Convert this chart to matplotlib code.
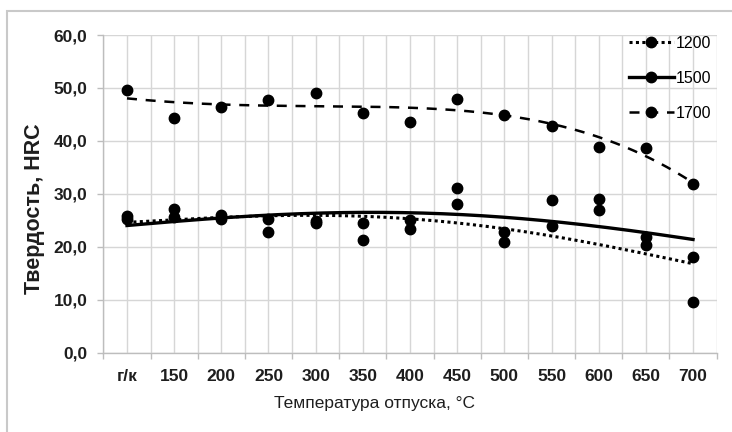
import numpy as np
import matplotlib.pyplot as plt
from matplotlib.lines import Line2D
from matplotlib.patches import Rectangle
from matplotlib.ticker import FixedLocator, FuncFormatter

# Hardness after tempering, HRC, for three hardening temperatures
temps = ['г/к', '150', '200', '250', '300', '350', '400',
         '450', '500', '550', '600', '650', '700']
hrc_1200 = [25.2, 25.6, 25.3, 22.7, 24.4, 21.2, 23.4, 28.0, 20.9, 24.0, 26.9, 20.3, 9.5]
hrc_1500 = [25.8, 27.2, 25.9, 25.3, 24.8, 24.4, 25.0, 31.0, 22.8, 28.9, 29.1, 21.8, 18.0]
hrc_1700 = [49.7, 44.3, 46.3, 47.7, 49.0, 45.2, 43.6, 47.9, 44.9, 42.8, 38.9, 38.7, 31.9]

# trend values at each tempering temperature
trend_1200 = [24.7, 24.9, 25.5, 25.9, 26.0, 25.8, 25.3, 24.5, 23.1, 22.0, 20.6, 18.7, 16.7]
trend_1500 = [24.0, 24.7, 25.5, 26.0, 26.3, 26.4, 26.4, 26.1, 25.6, 24.9, 23.7, 22.6, 21.4]
trend_1700 = [48.0, 47.4, 46.8, 46.6, 46.6, 46.4, 46.3, 45.9, 44.9, 43.0, 40.4, 37.6, 31.9]

series = [
    ('1200', hrc_1200, trend_1200, (0, (1, 1.1)), 2.2),
    ('1500', hrc_1500, trend_1500, '-', 2.4),
    ('1700', hrc_1700, trend_1700, (0, (4, 3.5)), 1.8),
]

plt.rcParams['font.family'] = 'Liberation Sans'

fig = plt.figure(figsize=(7.32, 4.32), dpi=100)
# chart frame
fig.patches.append(Rectangle((7 / 732, -0.1), 1.1, (432 - 11) / 432 + 0.1,
                             transform=fig.transFigure, fill=False,
                             edgecolor='#c9c9c9', linewidth=1.5))

ax = fig.add_axes([103.4 / 732, 79.5 / 432, (716.6 - 103.4) / 732, (352.5 - 35) / 432])

x = np.arange(len(temps))
xs = np.linspace(0, len(temps) - 1, 200)
handles = []
for name, vals, trend, ls, lw in series:
    ax.plot(x, vals, ls='none', marker='o', ms=7.5, color='black', zorder=3)
    coef = np.polyfit(x, trend, 4)
    ax.plot(xs, np.polyval(coef, xs), ls=ls, lw=lw, color='black', zorder=2)
    handles.append(Line2D([], [], ls=ls, lw=lw, color='black', marker='o', ms=7.5))

ax.set_xlim(-0.5, len(temps) - 0.5)
ax.set_ylim(0, 60)
ax.xaxis.set_major_locator(FixedLocator(x))
ax.xaxis.set_minor_locator(FixedLocator(np.arange(-0.5, len(temps), 1.0)))
ax.set_xticklabels(temps)
ax.yaxis.set_major_locator(FixedLocator(np.arange(0, 61, 10)))
ax.yaxis.set_major_formatter(FuncFormatter(lambda v, p: f'{v:.1f}'.replace('.', ',')))

ax.grid(True, which='both', axis='x', color='#d6d6d6', lw=1.0, zorder=0)
ax.grid(True, which='major', axis='y', color='#d6d6d6', lw=1.0, zorder=0)
ax.set_axisbelow(True)

for s in ('top', 'right'):
    ax.spines[s].set_visible(False)
for s in ('left', 'bottom'):
    ax.spines[s].set_color('#bdbdbd')
    ax.spines[s].set_linewidth(1.0)

ax.tick_params(axis='x', which='major', length=0, pad=12, labelsize=12.5)
ax.tick_params(axis='x', which='minor', length=4.5, color='#bdbdbd', width=1.0)
ax.tick_params(axis='y', which='major', length=4.5, color='#bdbdbd', width=1.0,
               pad=7, labelsize=12.5)
for lab in ax.get_xticklabels() + ax.get_yticklabels():
    lab.set_fontweight('bold')
    lab.set_color('#1e1e1e')

ax.set_xlabel('Температура отпуска, °C', fontsize=12.5, color='#1e1e1e')
ax.xaxis.set_label_coords((375 - 103.4) / 613.2, -0.137)
ax.set_ylabel('Твердость, HRC', fontsize=15.5, fontweight='bold', color='#1e1e1e')
ax.yaxis.set_label_coords(-0.095, (352.5 - 208.5) / 317.5)

ax.legend(handles, [s[0] for s in series], loc='upper left',
          bbox_to_anchor=(629 / 732, 396 / 432), bbox_transform=fig.transFigure,
          frameon=False, fontsize=11.5, handlelength=2.8, handletextpad=0.1,
          labelspacing=1.25, borderpad=0, borderaxespad=0)

fig.savefig('out.png', dpi=100)
